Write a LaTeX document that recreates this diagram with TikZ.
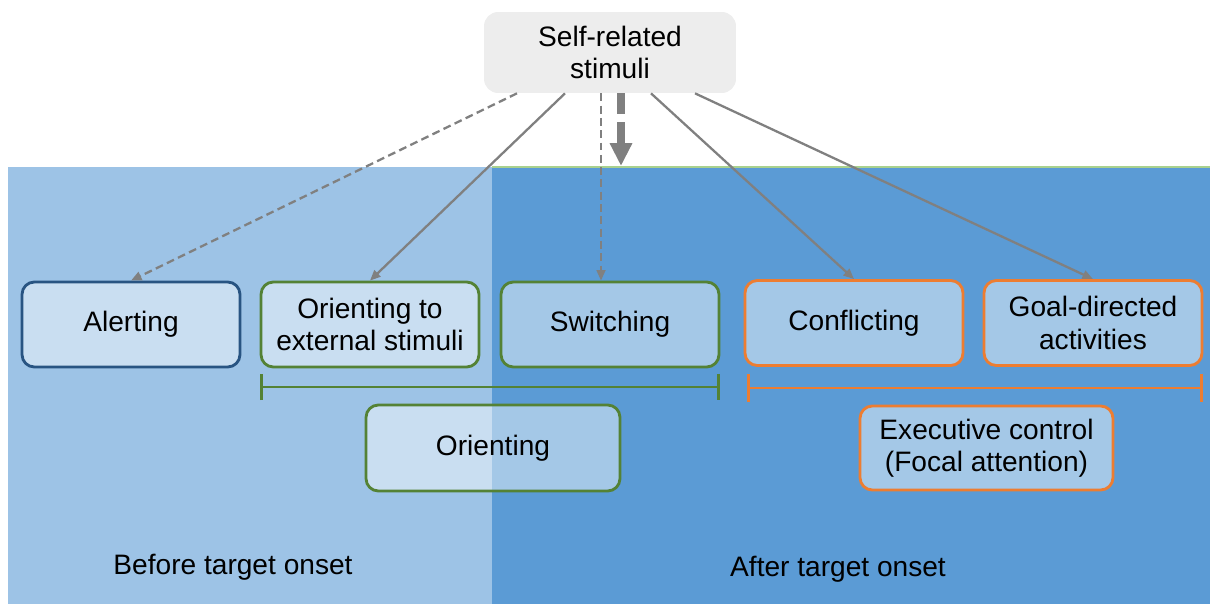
\documentclass[tikz,border=0pt]{standalone}
\usepackage{fontspec}
\setmainfont{Liberation Sans}
\usetikzlibrary{arrows.meta, positioning}

\definecolor{lightreg}{HTML}{9DC3E6}
\definecolor{darkreg}{HTML}{5B9BD5}
\definecolor{selfgray}{HTML}{EDEDED}
\definecolor{navyline}{RGB}{40,84,130}
\definecolor{greenline}{HTML}{548235}
\definecolor{orangeline}{HTML}{ED7D31}
\definecolor{arrowgray}{HTML}{808080}
\definecolor{topline}{HTML}{A9D18E}

\begin{document}
\begin{tikzpicture}[x=0.02cm,y=-0.02cm,line join=round,
  box/.style={rounded corners=7pt, minimum width=4.36cm, minimum height=1.7cm,
    align=center, fill=white, fill opacity=0.45, text opacity=1, line width=1.6pt,
    font=\fontsize{16}{18.5}\selectfont},
  thinarrow/.style={arrowgray, line width=1.3pt, -{Triangle[length=6pt,width=5pt]}},
  dasharrow/.style={thinarrow, dash pattern=on 4.5pt off 2.5pt}]

\useasboundingbox (0,0) rectangle (1210,604);

% Background regions
\fill[lightreg] (8,167) rectangle (492,604);
\fill[darkreg] (492,167) rectangle (1210,604);
\draw[topline, line width=0.8pt] (492,167) -- (1210,167);

% Stimulus
\node[rounded corners=8pt, fill=selfgray, minimum width=5.04cm, minimum height=1.62cm,
  align=center, font=\fontsize{16}{18.5}\selectfont] (self) at (610,52.5) {Self-related\\stimuli};

% Attention boxes
\node[box, draw=navyline] (alert) at (131,324.5) {Alerting};
\node[box, draw=greenline] (ext) at (370,324.5) {Orienting to\\external stimuli};
\node[box, draw=greenline] (switch) at (610,324.5) {Switching};
\node[box, draw=orangeline] (conf) at (854,323) {Conflicting};
\node[box, draw=orangeline] (goal) at (1093,323) {Goal-directed\\activities};

\node[box, draw=greenline, minimum width=5.08cm, minimum height=1.72cm] (orient) at (493,448) {Orienting};
\node[box, draw=orangeline, minimum width=5.06cm, minimum height=1.68cm] (exec) at (986.5,448) {Executive control\\(Focal attention)};

% Brackets
\draw[greenline, line width=1.7pt, {Bar[width=15pt]}-{Bar[width=15pt]}]
  (ext.south west |- 0,387) -- (switch.south east |- 0,387);
\draw[orangeline, line width=1.7pt, {Bar[width=16pt]}-{Bar[width=16pt]}]
  (747,388) -- (goal.south east |- 0,388);

% Arrows from the stimulus
\draw[dasharrow] (self.south -| 517,0) -- (alert.north);
\draw[thinarrow] (self.south -| 565,0) -- (ext.north);
\draw[dasharrow] (self.south -| 601,0) -- (switch.north -| 601,0);
\draw[thinarrow] (self.south -| 651,0) -- (conf.north);
\draw[thinarrow] (self.south -| 695,0) -- (goal.north);

\coordinate (onset) at (621,166);
\draw[arrowgray, line width=4pt, dash pattern=on 12pt off 4.5pt,
  -{Triangle[length=13pt,width=12pt]}] (self.south -| onset) -- (onset);

% Phase labels
\node[font=\fontsize{16}{18.5}\selectfont] (before) at (233,567) {Before target onset};
\node[font=\fontsize{16}{18.5}\selectfont] (after) at (838,569) {After target onset};

\end{tikzpicture}
\end{document}
